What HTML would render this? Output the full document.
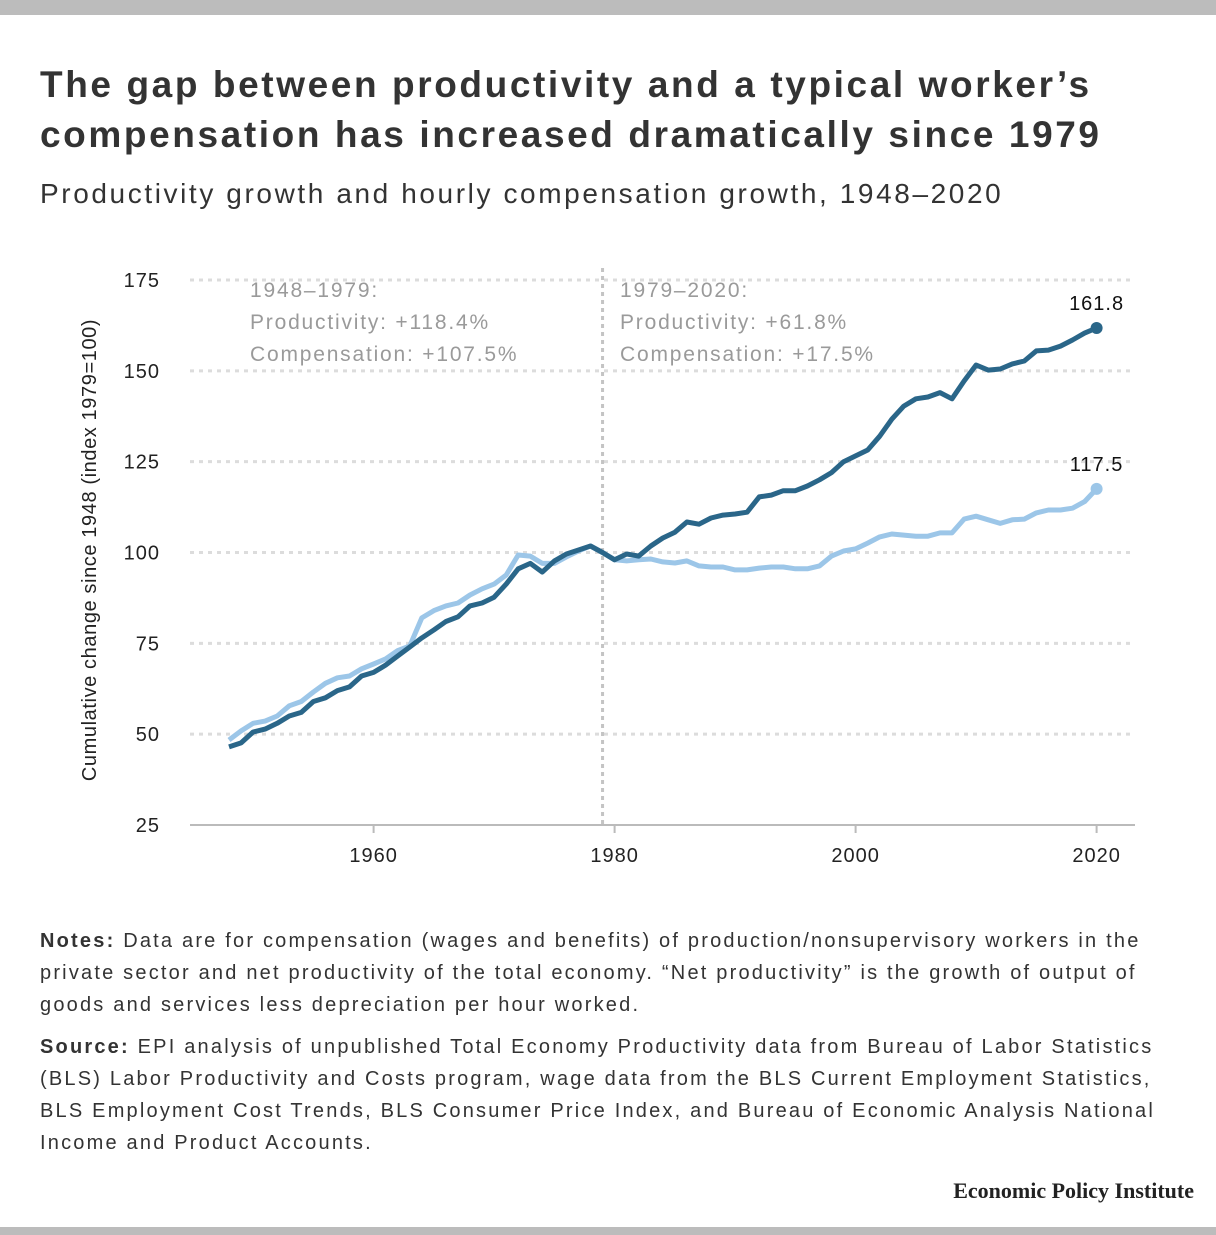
<!DOCTYPE html>
<html><head><meta charset="utf-8"><style>
body{margin:0;width:1216px;height:1235px;background:#fff;font-family:"Liberation Sans",sans-serif;position:relative;overflow:hidden}
.bar{position:absolute;left:0;width:1216px;background:#bcbcbc}
h1{position:absolute;left:40px;top:60px;margin:0;font-size:37px;line-height:50px;color:#333;font-weight:bold;letter-spacing:2.6px;white-space:nowrap}
.sub{position:absolute;left:40px;top:178px;font-size:28px;color:#333;letter-spacing:2.6px;white-space:nowrap}
.notes{position:absolute;left:40px;top:925px;font-size:20px;line-height:32px;color:#333;letter-spacing:2.2px;white-space:nowrap}
.notes p{margin:0 0 10px 0}
.epi{position:absolute;right:22px;top:1178px;font-family:"Liberation Serif",serif;font-weight:bold;font-size:22px;color:#222}
</style></head><body>
<div class="bar" style="top:0;height:15px"></div>
<h1>The gap between productivity and a typical worker’s<br>compensation has increased dramatically since 1979</h1>
<div class="sub">Productivity growth and hourly compensation growth, 1948–2020</div>
<svg id="chart" width="1216" height="900" style="position:absolute;left:0;top:0"></svg>
<div class="notes">
<p><b>Notes:</b> Data are for compensation (wages and benefits) of production/nonsupervisory workers in the<br>private sector and net productivity of the total economy. “Net productivity” is the growth of output of<br>goods and services less depreciation per hour worked.</p>
<p><b>Source:</b> EPI analysis of unpublished Total Economy Productivity data from Bureau of Labor Statistics<br>(BLS) Labor Productivity and Costs program, wage data from the BLS Current Employment Statistics,<br>BLS Employment Cost Trends, BLS Consumer Price Index, and Bureau of Economic Analysis National<br>Income and Product Accounts.</p>
</div>
<div class="epi">Economic Policy Institute</div>
<div class="bar" style="top:1227px;height:8px"></div>
<script>
const startYear=1948;
const productivity=[46.5,47.6,50.6,51.4,53,55,56,59,60,62,63,66,67,69,71.5,74,76.5,78.7,81,82.3,85.3,86.1,87.7,91.3,95.5,97,94.6,97.7,99.6,100.7,101.8,100,98,99.6,99,101.8,104,105.6,108.4,107.8,109.5,110.3,110.6,111.1,115.3,115.8,117,117,118.3,120,122,125,126.6,128.2,132,136.7,140.3,142.3,142.8,144,142.3,147.2,151.6,150.2,150.5,151.9,152.7,155.5,155.7,156.8,158.5,160.4,161.8];
const compensation=[48.4,50.9,53,53.6,55,57.8,59,61.6,64,65.5,66,68,69.3,70.7,73,74.3,82,84,85.3,86.1,88.3,90,91.3,93.8,99.3,99,97,97,98.8,100.4,101.8,100,98,97.7,98,98.2,97.4,97.1,97.7,96.3,96,96,95.2,95.2,95.7,96,96,95.5,95.5,96.3,99,100.4,101,102.6,104.3,105.1,104.8,104.5,104.5,105.4,105.4,109.2,110,109,108,109,109.2,110.9,111.7,111.7,112.2,114,117.5];
const yTicks=[25,50,75,100,125,150,175];
const xTicks=[1960,1980,2000,2020];
const NS="http://www.w3.org/2000/svg";
const svg=document.getElementById('chart');
const X=yr=>229+(yr-1948)*12.05;
const Y=v=>552.5-(v-100)*3.633;
function el(t,a,txt){const e=document.createElementNS(NS,t);for(const k in a)e.setAttribute(k,a[k]);if(txt!=null)e.textContent=txt;svg.appendChild(e);return e;}
for(const t of yTicks){
  if(t>25){const g=el('line',{x1:190,x2:1135,y1:Y(t),y2:Y(t),stroke:'#dcdcdc','stroke-width':3,'stroke-dasharray':'4 5'});
  
  }
  const l=el('text',{x:160,y:Y(t)+7,'text-anchor':'end','font-size':20,fill:'#222','letter-spacing':1},t);
  
  
}
const ax=el('line',{x1:190,x2:1135,y1:825,y2:825,stroke:'#bbb','stroke-width':2});


for(const t of xTicks){
  const tk=el('line',{x1:X(t),x2:X(t),y1:825,y2:833,stroke:'#bbb','stroke-width':2});
  
  
  const l=el('text',{x:X(t),y:862,'text-anchor':'middle','font-size':20,fill:'#222','letter-spacing':1},t);
  
  
}
const vl=el('line',{x1:X(1979),x2:X(1979),y1:268,y2:825,stroke:'#c4c4c4','stroke-width':3,'stroke-dasharray':'4 4'});


const yt=el('text',{transform:'translate(96,550) rotate(-90)','text-anchor':'middle','font-size':20,fill:'#222','letter-spacing':0.6},'Cumulative change since 1948 (index 1979=100)');


const ann=[[250,['1948–1979:','Productivity: +118.4%','Compensation: +107.5%']],[620,['1979–2020:','Productivity: +61.8%','Compensation: +17.5%']]];
for(const [x,lines] of ann){lines.forEach((s,i)=>{const t=el('text',{x:x,y:297+i*32,'font-size':21,fill:'#9a9a9a','letter-spacing':1.8},s);

});}
function series(vals,color,name){
  const d=vals.map((v,i)=>(i?'L':'M')+X(startYear+i).toFixed(1)+' '+Y(v).toFixed(1)).join(' ');
  const p=el('path',{d:d,fill:'none',stroke:color,'stroke-width':5,'stroke-linejoin':'round'});
  
  
  const last=vals[vals.length-1],lx=X(startYear+vals.length-1);
  const c=el('circle',{cx:lx,cy:Y(last),r:6,fill:color});
  
  
  const t=el('text',{x:lx,y:Y(last)-18,'text-anchor':'middle','font-size':20,fill:'#111','letter-spacing':1},last.toFixed(1));
  
  
}
series(compensation,'#9cc6e8','compensation');
series(productivity,'#2a6689','productivity');
</script>
</body></html>
